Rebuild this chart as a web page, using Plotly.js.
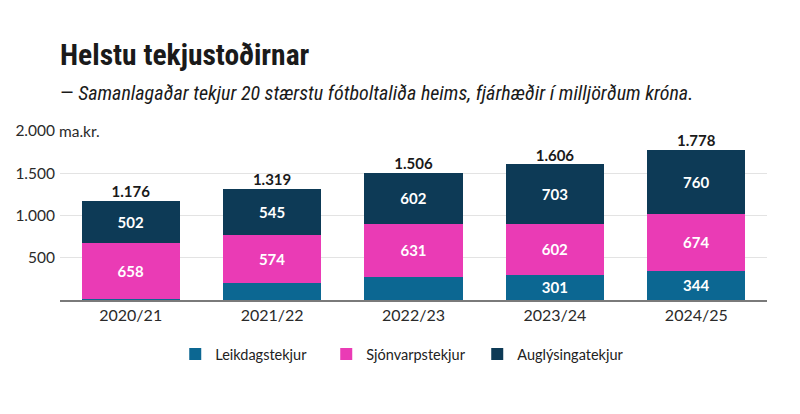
<!DOCTYPE html>
<html>
<head>
<meta charset="utf-8">
<script src="https://cdn.plot.ly/plotly-3.0.1.min.js"></script>
<style>
html,body{margin:0;padding:0;background:#fff;}
#chart{width:800px;height:414px;}
</style>
</head>
<body>
<div id="chart"></div>
<script>
const seasons = ['2020/21', '2021/22', '2022/23', '2023/24', '2024/25'];
const matchday = [16, 200, 273, 301, 344];
const broadcast = [658, 574, 631, 602, 674];
const commercial = [502, 545, 602, 703, 760];
const totals = [1176, 1319, 1506, 1606, 1778];
const matchdayShown = [false, false, false, true, true];
const seriesNames = ['Leikdagstekjur', 'Sjónvarpstekjur', 'Auglýsingatekjur'];
const yTicks = [500, 1000, 1500, 2000];

const colors = ['#0c6792', '#ea3bb5', '#0d3a56'];
const labelFont = {family: 'Lato, "Open Sans", sans-serif', size: 15, color: '#ffffff', weight: 700};

function fmt(v) {
  return v.toString().replace(/\B(?=(\d{3})+(?!\d))/g, '.');
}

function barTrace(name, vals, color, shown) {
  return {
    type: 'bar', name: name, x: seasons, y: vals,
    marker: {color: color, line: {width: 0}},
    text: vals.map((v, i) => (shown ? (shown[i] ? fmt(v) : '') : fmt(v))),
    textposition: 'inside', insidetextanchor: 'middle', textangle: 0,
    constraintext: 'none',
    textfont: labelFont,
    hoverinfo: 'skip'
  };
}

const data = [
  barTrace(seriesNames[0], matchday, colors[0], matchdayShown),
  barTrace(seriesNames[1], broadcast, colors[1]),
  barTrace(seriesNames[2], commercial, colors[2]),
  {
    type: 'scatter', mode: 'text', x: seasons, y: totals,
    text: totals.map(fmt), textposition: 'top center',
    textfont: {family: 'Lato, "Open Sans", sans-serif', size: 15, color: '#1a1a1a', weight: 700},
    showlegend: false, hoverinfo: 'skip', cliponaxis: false
  }
];

const layout = {
  width: 800, height: 414,
  margin: {l: 60, r: 33, t: 131, b: 114},
  paper_bgcolor: '#ffffff', plot_bgcolor: '#ffffff',
  barmode: 'stack', bargap: 0.305,
  separators: ',.',
  showlegend: true,
  font: {family: 'Lato, "Open Sans", sans-serif', color: '#222'},
  xaxis: {
    type: 'category', tickfont: {size: 16, color: '#2a2a2a'},
    showline: true, linecolor: '#7a7a7a', linewidth: 1.5,
    ticks: '', showgrid: false, range: [-0.5, 4.5], fixedrange: true
  },
  yaxis: {
    range: [0, 2000], tickvals: yTicks, ticktext: yTicks.map(fmt),
    tickfont: {size: 15.5, color: '#2a2a2a'},
    showgrid: true, gridcolor: '#e3e3e3', gridwidth: 1.2,
    zeroline: false, ticks: '', ticklabelstandoff: 4, fixedrange: true
  },
  legend: {
    orientation: 'h', x: 0.163, xanchor: 'left', y: -0.32, yanchor: 'middle',
    entrywidth: 106, entrywidthmode: 'pixels',
    font: {size: 14.5, color: '#222'}, traceorder: 'normal', itemclick: false
  },
  annotations: [
    {text: 'Helstu tekjustoðirnar', xref: 'paper', yref: 'paper', x: 0, y: 1.45,
     xanchor: 'left', yanchor: 'middle', showarrow: false, xshift: -2,
     font: {family: '"Roboto Condensed", "Liberation Sans Narrow", Lato, sans-serif', size: 29.5, color: '#1a1a1a', weight: 700}},
    {text: '— <i>Samanlagaðar tekjur 20 stærstu fótboltaliða heims, fjárhæðir í milljörðum króna.</i>', xref: 'paper', yref: 'paper', x: 0, y: 1.222,
     xanchor: 'left', yanchor: 'middle', showarrow: false, xshift: -2,
     font: {family: '"Roboto Condensed", "Liberation Sans Narrow", Lato, sans-serif', size: 20, color: '#1a1a1a'}},
    {text: 'ma.kr.', xref: 'paper', yref: 'y', x: 0, y: 2000, xanchor: 'left', yanchor: 'middle',
     showarrow: false, bgcolor: '#ffffff', borderpad: 2, xshift: -4,
     font: {size: 15.5, color: '#2a2a2a'}}
  ]
};

Plotly.newPlot('chart', data, layout, {displayModeBar: false, staticPlot: true});
</script>
</body>
</html>
